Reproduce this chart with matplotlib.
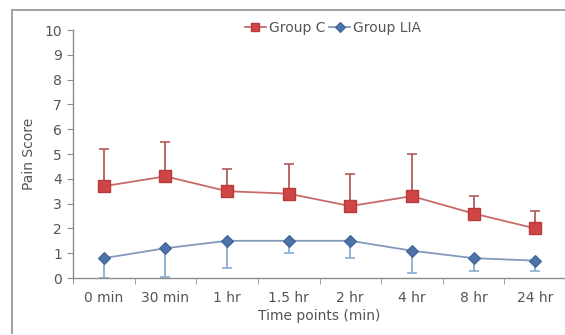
import matplotlib
matplotlib.use("Agg")
import matplotlib.pyplot as plt
from matplotlib.lines import Line2D
import numpy as np

categories = ["0 min", "30 min", "1 hr", "1.5 hr", "2 hr", "4 hr", "8 hr", "24 hr"]
group_c = [3.7, 4.1, 3.5, 3.4, 2.9, 3.3, 2.6, 2.0]
group_c_upper = [5.2, 5.5, 4.4, 4.6, 4.2, 5.0, 3.3, 2.7]
group_lia = [0.8, 1.2, 1.5, 1.5, 1.5, 1.1, 0.8, 0.7]
group_lia_lower = [0.0, 0.05, 0.4, 1.0, 0.8, 0.2, 0.3, 0.3]

plt.rcParams['font.family'] = ['DejaVu Sans']
W, H = 565, 335
fig = plt.figure(figsize=(W / 100, H / 100), dpi=100)
fig.patch.set_facecolor("white")

# outer frame (top and left edges only visible)
frame_col = "#a0a0a0"
fig.lines.append(Line2D([12 / W, 1.0], [(H - 10) / H, (H - 10) / H],
                        transform=fig.transFigure, color=frame_col, lw=1.4))
fig.lines.append(Line2D([12 / W, 12 / W], [(H - 333) / H, (H - 10) / H],
                        transform=fig.transFigure, color=frame_col, lw=1.4))

left, right, bottom, top = 73, 566, 278, 30
ax = fig.add_axes([left / W, (H - bottom) / H, (right - left) / W, (bottom - top) / H])

x = np.arange(len(categories))
c = np.array(group_c)
cu = np.array(group_c_upper)
l = np.array(group_lia)
ll = np.array(group_lia_lower)

red = "#d04545"
red_edge = "#b83a3a"
red_line = "#c86a6a"
red_err = "#b25a5a"
blue = "#4d73a8"
blue_line = "#8299b8"
blue_err = "#86aed6"

ax.errorbar(x, c, yerr=[np.zeros_like(c), cu - c], fmt="none", ecolor=red_err,
            elinewidth=1.3, capsize=3.5, capthick=1.2, zorder=2)
ax.errorbar(x, l, yerr=[l - ll, np.zeros_like(l)], fmt="none", ecolor=blue_err,
            elinewidth=1.3, capsize=3.5, capthick=1.2, zorder=2)

ax.plot(x, c, color=red_line, lw=1.3, marker="s", markersize=8.5,
        markerfacecolor=red, markeredgecolor=red_edge, markeredgewidth=1.0,
        label="Group C", zorder=3)
ax.plot(x, l, color=blue_line, lw=1.3, marker="D", markersize=6.5,
        markerfacecolor=blue, markeredgecolor="#3f6297", markeredgewidth=0.8,
        label="Group LIA", zorder=3)

ax.set_xlim(-0.5, len(categories) - 0.5)
ax.set_ylim(0, 10)
ax.set_yticks(range(0, 11))
ax.set_xticks(x)
ax.set_xticklabels(categories)
ax.set_xticks(np.arange(-0.5, len(categories)), minor=True)

gray = "#8c8c8c"
txt = "#555555"
for s in ["top", "right"]:
    ax.spines[s].set_visible(False)
for s in ["left", "bottom"]:
    ax.spines[s].set_color(gray)
    ax.spines[s].set_linewidth(1.0)

ax.tick_params(axis="x", which="major", length=0, pad=9, labelsize=10, labelcolor=txt)
ax.tick_params(axis="x", which="minor", length=4, color=gray, direction="out")
ax.tick_params(axis="y", which="major", length=4, color=gray, direction="out",
               pad=4, labelsize=10, labelcolor=txt)

ax.set_xlabel("Time points (min)", fontsize=10, color=txt, labelpad=3)
ax.set_ylabel("Pain Score", fontsize=10, color=txt, labelpad=6)

leg = fig.legend(loc="center", bbox_to_anchor=(333 / W, (H - 28) / H), ncol=2,
                 frameon=False, fontsize=10, handlelength=1.5, handletextpad=0.2,
                 columnspacing=0.3, borderaxespad=0, markerscale=0.75)
for t in leg.get_texts():
    t.set_color(txt)

fig.savefig("out.png", dpi=100, facecolor="white")
